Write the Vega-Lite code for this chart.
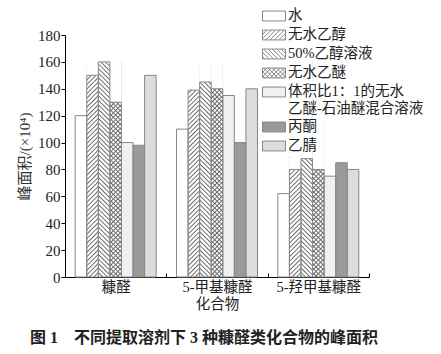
{
"$schema":"https://vega.github.io/schema/vega-lite/v6.json",
"width":304,"height":242,
"autosize":{"type":"none"},
"padding":{"left":65,"top":35,"right":72,"bottom":77},
"background":"white",
"params":[
{"name":"g","value":"#6a6a6a"},
{"name":"c","value":"rgba(106,106,106,0)"},
{"name":"hf","expr":"{gradient:'linear',x1:0,y1:0,x2:0.0565,y2:1.0507,stops:[{offset:0,color:g},{offset:0.006,color:c},{offset:0.014,color:c},{offset:0.02,color:g},{offset:0.026,color:c},{offset:0.034,color:c},{offset:0.04,color:g},{offset:0.046,color:c},{offset:0.054,color:c},{offset:0.06,color:g},{offset:0.066,color:c},{offset:0.074,color:c},{offset:0.08,color:g},{offset:0.086,color:c},{offset:0.094,color:c},{offset:0.1,color:g},{offset:0.106,color:c},{offset:0.114,color:c},{offset:0.12,color:g},{offset:0.126,color:c},{offset:0.134,color:c},{offset:0.14,color:g},{offset:0.146,color:c},{offset:0.154,color:c},{offset:0.16,color:g},{offset:0.166,color:c},{offset:0.174,color:c},{offset:0.18,color:g},{offset:0.186,color:c},{offset:0.194,color:c},{offset:0.2,color:g},{offset:0.206,color:c},{offset:0.214,color:c},{offset:0.22,color:g},{offset:0.226,color:c},{offset:0.234,color:c},{offset:0.24,color:g},{offset:0.246,color:c},{offset:0.254,color:c},{offset:0.26,color:g},{offset:0.266,color:c},{offset:0.274,color:c},{offset:0.28,color:g},{offset:0.286,color:c},{offset:0.294,color:c},{offset:0.3,color:g},{offset:0.306,color:c},{offset:0.314,color:c},{offset:0.32,color:g},{offset:0.326,color:c},{offset:0.334,color:c},{offset:0.34,color:g},{offset:0.346,color:c},{offset:0.354,color:c},{offset:0.36,color:g},{offset:0.366,color:c},{offset:0.374,color:c},{offset:0.38,color:g},{offset:0.386,color:c},{offset:0.394,color:c},{offset:0.4,color:g},{offset:0.406,color:c},{offset:0.414,color:c},{offset:0.42,color:g},{offset:0.426,color:c},{offset:0.434,color:c},{offset:0.44,color:g},{offset:0.446,color:c},{offset:0.454,color:c},{offset:0.46,color:g},{offset:0.466,color:c},{offset:0.474,color:c},{offset:0.48,color:g},{offset:0.486,color:c},{offset:0.494,color:c},{offset:0.5,color:g},{offset:0.506,color:c},{offset:0.514,color:c},{offset:0.52,color:g},{offset:0.526,color:c},{offset:0.534,color:c},{offset:0.54,color:g},{offset:0.546,color:c},{offset:0.554,color:c},{offset:0.56,color:g},{offset:0.566,color:c},{offset:0.574,color:c},{offset:0.58,color:g},{offset:0.586,color:c},{offset:0.594,color:c},{offset:0.6,color:g},{offset:0.606,color:c},{offset:0.614,color:c},{offset:0.62,color:g},{offset:0.626,color:c},{offset:0.634,color:c},{offset:0.64,color:g},{offset:0.646,color:c},{offset:0.654,color:c},{offset:0.66,color:g},{offset:0.666,color:c},{offset:0.674,color:c},{offset:0.68,color:g},{offset:0.686,color:c},{offset:0.694,color:c},{offset:0.7,color:g},{offset:0.706,color:c},{offset:0.714,color:c},{offset:0.72,color:g},{offset:0.726,color:c},{offset:0.734,color:c},{offset:0.74,color:g},{offset:0.746,color:c},{offset:0.754,color:c},{offset:0.76,color:g},{offset:0.766,color:c},{offset:0.774,color:c},{offset:0.78,color:g},{offset:0.786,color:c},{offset:0.794,color:c},{offset:0.8,color:g},{offset:0.806,color:c},{offset:0.814,color:c},{offset:0.82,color:g},{offset:0.826,color:c},{offset:0.834,color:c},{offset:0.84,color:g},{offset:0.846,color:c},{offset:0.854,color:c},{offset:0.86,color:g},{offset:0.866,color:c},{offset:0.874,color:c},{offset:0.88,color:g},{offset:0.886,color:c},{offset:0.894,color:c},{offset:0.9,color:g},{offset:0.906,color:c},{offset:0.914,color:c},{offset:0.92,color:g},{offset:0.926,color:c},{offset:0.934,color:c},{offset:0.94,color:g},{offset:0.946,color:c},{offset:0.954,color:c},{offset:0.96,color:g},{offset:0.966,color:c},{offset:0.974,color:c},{offset:0.98,color:g},{offset:0.986,color:c},{offset:0.994,color:c},{offset:1,color:g}]}"},
{"name":"hb","expr":"merge(hf,{x1:1,x2:0.9435})"},
{"name":"pr","value":"M-1,-0.43H1V0.43H-1Z"},
{"name":"pf","value":"M-1,-0.05L-0.62,-0.43M-1,0.33L-0.24,-0.43M-0.72,0.43L0.14,-0.43M-0.34,0.43L0.52,-0.43M0.04,0.43L0.9,-0.43M0.42,0.43L1,-0.15M0.8,0.43L1,0.23"},
{"name":"pb","value":"M1,-0.05L0.62,-0.43M1,0.33L0.24,-0.43M0.72,0.43L-0.14,-0.43M0.34,0.43L-0.52,-0.43M-0.04,0.43L-0.9,-0.43M-0.42,0.43L-1,-0.15M-0.8,0.43L-1,0.23"}
],
"title":{"text":"图 1　不同提取溶剂下 3 种糠醛类化合物的峰面积","orient":"bottom","anchor":"middle","offset":19,"dx":-13,"font":"Times New Roman, Liberation Serif, Noto Sans CJK SC","fontSize":16,"fontWeight":"bold","color":"#222"},
"data":{"values":[
{"group":"糠醛","solvent":"水","value":120},
{"group":"糠醛","solvent":"无水乙醇","value":150},
{"group":"糠醛","solvent":"50%乙醇溶液","value":160},
{"group":"糠醛","solvent":"无水乙醚","value":130},
{"group":"糠醛","solvent":"体积比1：1的无水乙醚-石油醚混合溶液","value":100},
{"group":"糠醛","solvent":"丙酮","value":98},
{"group":"糠醛","solvent":"乙腈","value":150},
{"group":"5-甲基糠醛化合物","solvent":"水","value":110},
{"group":"5-甲基糠醛化合物","solvent":"无水乙醇","value":139},
{"group":"5-甲基糠醛化合物","solvent":"50%乙醇溶液","value":145},
{"group":"5-甲基糠醛化合物","solvent":"无水乙醚","value":140},
{"group":"5-甲基糠醛化合物","solvent":"体积比1：1的无水乙醚-石油醚混合溶液","value":135},
{"group":"5-甲基糠醛化合物","solvent":"丙酮","value":100},
{"group":"5-甲基糠醛化合物","solvent":"乙腈","value":140},
{"group":"5-羟甲基糠醛","solvent":"水","value":62},
{"group":"5-羟甲基糠醛","solvent":"无水乙醇","value":80},
{"group":"5-羟甲基糠醛","solvent":"50%乙醇溶液","value":88},
{"group":"5-羟甲基糠醛","solvent":"无水乙醚","value":80},
{"group":"5-羟甲基糠醛","solvent":"体积比1：1的无水乙醚-石油醚混合溶液","value":75},
{"group":"5-羟甲基糠醛","solvent":"丙酮","value":85},
{"group":"5-羟甲基糠醛","solvent":"乙腈","value":80}
]},
"encoding":{
"x":{"field":"group","type":"nominal","sort":["糠醛","5-甲基糠醛化合物","5-羟甲基糠醛"],"scale":{"paddingInner":0,"paddingOuter":0},
"axis":{"title":null,"labelAngle":0,"labelFont":"Times New Roman, Liberation Serif, Noto Sans CJK SC","labelFontSize":14.5,"labelColor":"#222","labelPadding":7,"labelLineHeight":17,"labelLimit":0,"labelExpr":"datum.label=='5-甲基糠醛化合物'?['5-甲基糠醛','化合物']:datum.label","tickBand":"extent","tickSize":-4,"tickColor":"#000","domainColor":"#000"}},
"xOffset":{"field":"solvent","type":"nominal","scale":{"domain":["水","无水乙醇","50%乙醇溶液","无水乙醚","体积比1：1的无水乙醚-石油醚混合溶液","丙酮","乙腈"],"paddingInner":0,"paddingOuter":0.88}}
},
"layer":[
{"mark":{"type":"bar"},
"encoding":{
"y":{"field":"value","type":"quantitative","scale":{"domain":[0,180]},"axis":{"title":"峰面积/(×10⁴)","values":[0,20,40,60,80,100,120,140,160,180]}},
"fill":{"field":"solvent","type":"nominal","scale":{"domain":["水","无水乙醇","50%乙醇溶液","无水乙醚","体积比1：1的无水乙醚-石油醚混合溶液","丙酮","乙腈"],"range":["#ffffff","#ffffff","#ffffff","#ffffff","#f0f0f0","#9a9a9a","#dcdcdc"]},
"legend":{"title":null,"orient":"none","legendX":197,"legendY":-31,"symbolType":"M-1,-0.43H1V0.43H-1Z","symbolSize":529,"symbolStrokeColor":"#888","symbolStrokeWidth":1,"labelFont":"Times New Roman, Liberation Serif, Noto Sans CJK SC","labelFontSize":14.5,"labelColor":"#222","labelOffset":2,"labelLimit":0,"rowPadding":0,"padding":0,"labelLineHeight":14.5,
"labelExpr":"datum.label=='体积比1：1的无水乙醚-石油醚混合溶液'?['体积比1：1的无水','乙醚-石油醚混合溶液']:datum.label",
"encode":{"symbols":{"update":{"shape":{"signal":"datum.value=='无水乙醇'?pr+pf:datum.value=='50%乙醇溶液'?pr+pb:datum.value=='无水乙醚'?pr+pf+pb:pr"},"stroke":{"value":"#888"},"strokeWidth":{"value":1}}}}}}
}},
{"transform":[{"filter":{"field":"solvent","oneOf":["无水乙醇","无水乙醚"]}}],
"mark":{"type":"bar","fill":{"expr":"hf"}},
"encoding":{"y":{"datum":160,"type":"quantitative","scale":{"domain":[0,180]},"axis":{"title":"峰面积/(×10⁴)","values":[0,20,40,60,80,100,120,140,160,180]}},"y2":{"datum":0}}},
{"transform":[{"filter":{"field":"solvent","oneOf":["50%乙醇溶液","无水乙醚"]}}],
"mark":{"type":"bar","fill":{"expr":"hb"}},
"encoding":{"y":{"datum":160,"type":"quantitative","scale":{"domain":[0,180]},"axis":{"title":"峰面积/(×10⁴)","values":[0,20,40,60,80,100,120,140,160,180]}},"y2":{"datum":0}}},
{"transform":[{"filter":{"field":"solvent","oneOf":["无水乙醇","50%乙醇溶液","无水乙醚"]}}],
"mark":{"type":"bar","fill":"#ffffff"},
"encoding":{"y":{"field":"value","type":"quantitative","scale":{"domain":[0,180]},"axis":{"title":"峰面积/(×10⁴)","values":[0,20,40,60,80,100,120,140,160,180]}},"y2":{"datum":160}}},
{"mark":{"type":"bar","fillOpacity":0,"stroke":"#888","strokeWidth":1},
"encoding":{"y":{"field":"value","type":"quantitative","scale":{"domain":[0,180]},"axis":{"title":"峰面积/(×10⁴)","values":[0,20,40,60,80,100,120,140,160,180]}}}}
],
"config":{"view":{"stroke":null},
"axisY":{"titleFont":"Times New Roman, Liberation Serif, Noto Sans CJK SC","titleFontSize":15,"titleFontWeight":"normal","titleColor":"#333","titlePadding":5,"labelOverlap":false,"labelFont":"Times New Roman, Liberation Serif, serif","labelFontSize":15,"labelColor":"#222","labelPadding":1,"tickSize":4,"grid":false,"domainColor":"#000","tickColor":"#000"}}
}
